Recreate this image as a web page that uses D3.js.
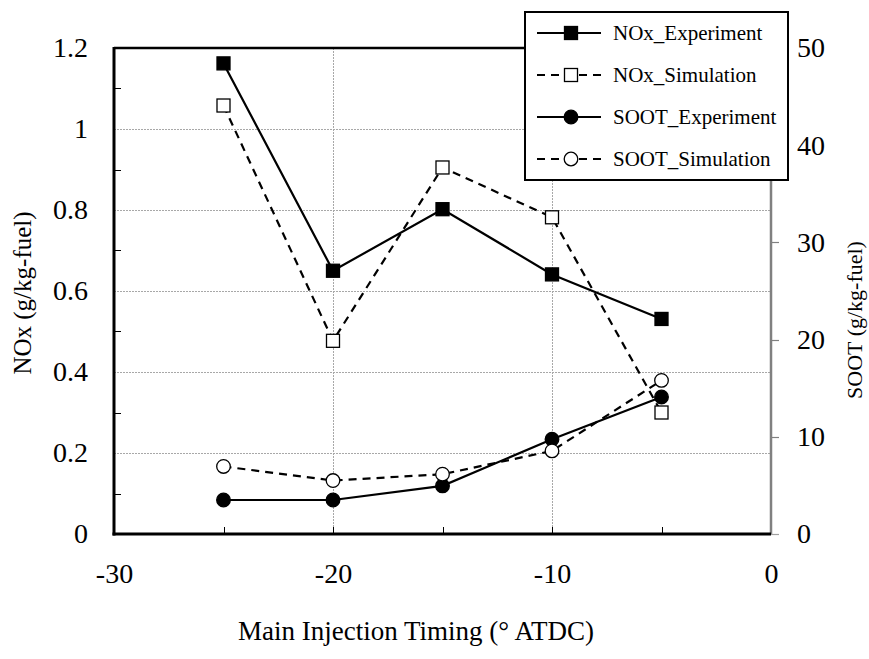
<!DOCTYPE html>
<html>
<head>
<meta charset="utf-8">
<script src="https://cdn.jsdelivr.net/npm/d3@7"></script>
<style>
  html, body { margin: 0; padding: 0; background: #fff; }
  svg text { font-family: "Liberation Serif", "Times New Roman", serif; fill: #000; }
</style>
</head>
<body>
<svg id="chart" width="869" height="659"></svg>
<script>
// ---- data ----
const timing = [-25, -20, -15, -10, -5];
const noxExperiment = [1.162, 0.650, 0.802, 0.641, 0.531];
const noxSimulation = [1.058, 0.477, 0.905, 0.782, 0.300];
const sootExperiment = [3.5, 3.5, 4.95, 9.75, 14.1];
const sootSimulation = [6.95, 5.5, 6.15, 8.55, 15.8];
const xTicks = [-30, -20, -10, 0];
const leftTicks = [0, 0.2, 0.4, 0.6, 0.8, 1, 1.2];
const rightTicks = [0, 10, 20, 30, 40, 50];
const legendLabels = ["NOx_Experiment", "NOx_Simulation", "SOOT_Experiment", "SOOT_Simulation"];

const FONT = "Liberation Serif";
const svg = d3.select("#chart");
const L = 114, R = 771, T = 48, B = 534;

const x = d3.scaleLinear().domain([-30, 0]).range([L, R]);
const yL = d3.scaleLinear().domain([0, 1.2]).range([B, T]);
const yR = d3.scaleLinear().domain([0, 50]).range([B, T]);

// gridlines
const grid = svg.append("g").attr("stroke", "#a8a8a8").attr("stroke-width", 1).attr("stroke-dasharray", "2,1");
[0.2, 0.4, 0.6, 0.8, 1.0].forEach(v => {
  grid.append("line").attr("x1", L).attr("x2", R).attr("y1", Math.round(yL(v)) + 0.5).attr("y2", Math.round(yL(v)) + 0.5);
});
[-20, -10].forEach(v => {
  grid.append("line").attr("x1", Math.round(x(v)) + 0.5).attr("x2", Math.round(x(v)) + 0.5).attr("y1", T).attr("y2", B);
});

function styleAxis(g) {
  g.attr("font-family", FONT).attr("font-size", 28);
  g.select(".domain").remove();
  g.selectAll("text").style("font-family", FONT).attr("font-size", 28).attr("fill", "#000");
}

// left axis
const leftAxis = d3.axisLeft(yL).tickValues(leftTicks).tickFormat(d => String(d)).tickSize(0).tickPadding(26);
const gl = svg.append("g").attr("transform", `translate(${L},0)`).call(leftAxis);
styleAxis(gl);
// minor inward ticks
const minor = svg.append("g").attr("stroke", "#000").attr("stroke-width", 1);
[0.1, 0.3, 0.5, 0.7, 0.9, 1.1].forEach(v => {
  minor.append("line").attr("x1", L).attr("x2", L + 7).attr("y1", Math.round(yL(v)) + 0.5).attr("y2", Math.round(yL(v)) + 0.5);
});

// bottom axis
const bottomAxis = d3.axisBottom(x).tickValues(xTicks).tickFormat(d => String(d)).tickSize(0).tickPadding(29);
const gb = svg.append("g").attr("transform", `translate(0,${B})`).call(bottomAxis);
styleAxis(gb);
[-25, -20, -15, -10, -5].forEach(v => {
  minor.append("line").attr("x1", Math.round(x(v)) + 0.5).attr("x2", Math.round(x(v)) + 0.5).attr("y1", B).attr("y2", B - 7);
});

// right axis (gray)
const rightAxis = d3.axisRight(yR).tickValues(rightTicks).tickFormat(d => String(d)).tickSize(0).tickPadding(26);
const gr = svg.append("g").attr("transform", `translate(${R},0)`).call(rightAxis);
styleAxis(gr);
svg.append("line").attr("x1", R).attr("x2", R).attr("y1", T).attr("y2", B).attr("stroke", "#808080").attr("stroke-width", 2.5);
[10, 20, 30, 40].forEach(v => {
  svg.append("line").attr("x1", R).attr("x2", R + 8).attr("y1", Math.round(yR(v)) + 0.5).attr("y2", Math.round(yR(v)) + 0.5)
    .attr("stroke", "#808080").attr("stroke-width", 1.2);
});
svg.append("line").attr("x1", R).attr("x2", R + 8).attr("y1", B + 0.5).attr("y2", B + 0.5).attr("stroke", "#a0a0a0").attr("stroke-width", 1.2);

// frame lines (left, bottom, top) black
svg.append("line").attr("x1", L).attr("x2", L).attr("y1", T - 1).attr("y2", B + 1.5).attr("stroke", "#000").attr("stroke-width", 3);
svg.append("line").attr("x1", L - 1.5).attr("x2", R).attr("y1", B).attr("y2", B).attr("stroke", "#000").attr("stroke-width", 3);
svg.append("line").attr("x1", L).attr("x2", R).attr("y1", T).attr("y2", T).attr("stroke", "#000").attr("stroke-width", 2.5);

// axis titles
svg.append("text").attr("x", 416).attr("y", 640).attr("text-anchor", "middle").attr("font-size", 27)
  .style("font-family", FONT).text("Main Injection Timing (\u00B0 ATDC)");
svg.append("text").attr("transform", "translate(31,293) rotate(-90)").attr("text-anchor", "middle").attr("font-size", 25)
  .style("font-family", FONT).text("NOx (g/kg-fuel)");
svg.append("text").attr("transform", "translate(862,320) rotate(-90)").attr("text-anchor", "middle").attr("font-size", 22)
  .style("font-family", FONT).text("SOOT (g/kg-fuel)");

// series
const series = [
  { values: noxExperiment, y: yL, dash: null, shape: "square", fill: "#000" },
  { values: noxSimulation, y: yL, dash: "8,6", shape: "square", fill: "#fff" },
  { values: sootExperiment, y: yR, dash: null, shape: "circle", fill: "#000" },
  { values: sootSimulation, y: yR, dash: "8,6", shape: "circle", fill: "#fff" }
];

function drawMarker(g, shape, fill, cx, cy) {
  if (shape === "square") {
    g.append("rect").attr("x", cx - 6.5).attr("y", cy - 6.5).attr("width", 13).attr("height", 13)
      .attr("fill", fill).attr("stroke", "#000").attr("stroke-width", 1.3);
  } else {
    g.append("circle").attr("cx", cx).attr("cy", cy).attr("r", 6.8)
      .attr("fill", fill).attr("stroke", "#000").attr("stroke-width", 1.3);
  }
}

const line = d3.line();
series.forEach(s => {
  const pts = timing.map((t, i) => [x(t), s.y(s.values[i])]);
  svg.append("path").attr("d", line(pts)).attr("fill", "none").attr("stroke", "#000")
    .attr("stroke-width", 2.2).attr("stroke-dasharray", s.dash);
});
series.forEach(s => {
  const g = svg.append("g");
  timing.forEach((t, i) => drawMarker(g, s.shape, s.fill, x(t), s.y(s.values[i])));
});

// legend
const lg = svg.append("g");
lg.append("rect").attr("x", 525).attr("y", 12).attr("width", 263).attr("height", 168)
  .attr("fill", "#fff").attr("stroke", "#000").attr("stroke-width", 2);
legendLabels.forEach((lab, i) => {
  const cy = 33 + i * 42;
  const s = series[i];
  lg.append("line").attr("x1", 537).attr("x2", 601).attr("y1", cy).attr("y2", cy)
    .attr("stroke", "#000").attr("stroke-width", 2.2).attr("stroke-dasharray", s.dash);
  drawMarker(lg, s.shape, s.fill, 571, cy);
  lg.append("text").attr("x", 613).attr("y", cy + 7).attr("font-size", 21).style("font-family", FONT).text(lab);
});
</script>
</body>
</html>
